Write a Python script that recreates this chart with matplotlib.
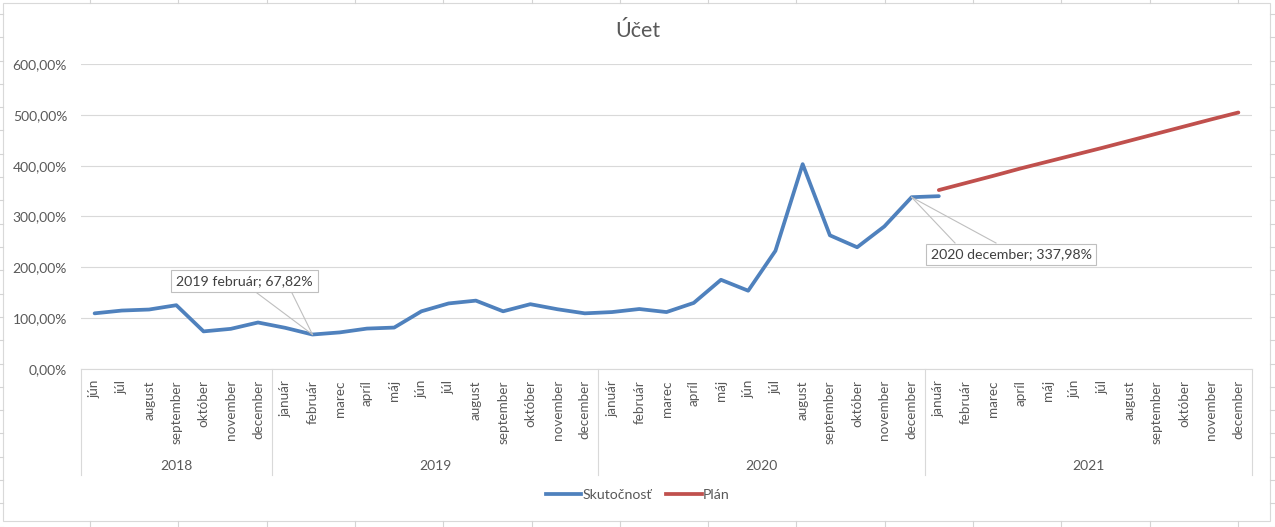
import matplotlib
matplotlib.use("Agg")
import matplotlib.pyplot as plt
from matplotlib.lines import Line2D
from matplotlib.patches import Rectangle
import matplotlib.transforms as mtransforms

plt.rcParams['font.family'] = ['Lato', 'DejaVu Sans']

# ---- data ----
years = ['2018', '2019', '2020', '2021']
months_2018 = ['jún', 'júl', 'august', 'september', 'október', 'november', 'december']
months_full = ['január', 'február', 'marec', 'apríl', 'máj', 'jún', 'júl', 'august',
               'september', 'október', 'november', 'december']
year_months = [months_2018, months_full, months_full, months_full]

skutocnost = [109.5, 115, 117, 125.5, 74, 79, 91.5,
              81, 67.82, 72, 79.5, 81.5, 113.5, 129, 134.5, 113.5, 127.5, 117.5, 109.5,
              112, 118, 112, 130, 175.5, 154, 232.5, 403, 263, 239.5, 280.5, 337.98,
              340]
plan = [352, 366, 380, 394.5, 408, 421.5, 435, 449, 463, 477, 491, 504.6]

labels_txt = [('2019 február; 67,82%', 8), ('2020 december; 337,98%', 30)]

yticks = [0, 100, 200, 300, 400, 500, 600]

# ---- derived ----
cat_labels = [m for ms in year_months for m in ms]
n = len(cat_labels)
x_sk = list(range(len(skutocnost)))
plan_start = len(skutocnost) - 1
x_pl = list(range(plan_start, plan_start + len(plan)))

W, H = 1275, 527
fig = plt.figure(figsize=(W / 100, H / 100), dpi=100)
fig.patch.set_facecolor('white')

def fx(px):
    return px / W

def fy(py):
    return 1 - py / H

# spreadsheet cell lines outside chart
cell_c = '#D4D4D4'
xc = 90.0
while xc < W:
    fig.add_artist(Line2D([fx(xc), fx(xc)], [fy(0), fy(3)], color=cell_c, lw=0.8))
    fig.add_artist(Line2D([fx(xc), fx(xc)], [fy(521), fy(H)], color=cell_c, lw=0.8))
    xc += 88.3
yc = 14.0
while yc < H:
    fig.add_artist(Line2D([fx(0), fx(3)], [fy(yc), fy(yc)], color=cell_c, lw=0.8))
    fig.add_artist(Line2D([fx(1270), fx(W)], [fy(yc), fy(yc)], color=cell_c, lw=0.8))
    yc += 23.3
fig.add_artist(Rectangle((fx(3), fy(521)), fx(1270) - fx(3), fy(3) - fy(521),
                         transform=fig.transFigure, fill=True, facecolor='white',
                         edgecolor='#D9D9D9', lw=0.8, zorder=0))

L, R, T, B = 81, 1252, 64, 369
ax = fig.add_axes([fx(L), fy(B), fx(R) - fx(L), fy(T) - fy(B)])
ax.set_facecolor('none')

blue = '#4F81BD'
red = '#C0504D'
LW = 2.7
ax.plot(x_sk, skutocnost, color=blue, lw=LW, solid_capstyle='round',
        solid_joinstyle='round', zorder=3, label='Skutočnosť')
ax.plot(x_pl, plan, color=red, lw=LW, solid_capstyle='round',
        solid_joinstyle='round', zorder=3, label='Plán')

ax.set_xlim(-0.5, n - 0.5)
ax.set_ylim(0, 600)
ax.set_yticks(yticks)
ax.set_yticklabels([f'{v:.2f}'.replace('.', ',') + '%' for v in yticks])
ax.yaxis.grid(True, color='#D9D9D9', lw=0.8)
ax.set_axisbelow(True)
for s in ['top', 'right', 'left']:
    ax.spines[s].set_visible(False)
ax.spines['bottom'].set_color('#D9D9D9')
ax.spines['bottom'].set_linewidth(0.8)
ax.tick_params(axis='y', length=0, pad=10, labelsize=10, labelcolor='#595959')
ax.set_xticks(range(n))
ax.set_xticklabels(cat_labels, rotation=90, va='top', ha='center')
ax.tick_params(axis='x', length=0, pad=8, labelsize=9.7, labelcolor='#595959')

# multi-level category axis
trans = mtransforms.blended_transform_factory(ax.transData, ax.transAxes)
axh = B - T
y_sep = -(475 - B) / axh
y_year = -(466 - B) / axh
pos = -0.5
seps = [pos]
for yr, ms in zip(years, year_months):
    start = pos
    pos += len(ms)
    seps.append(pos)
    ax.text((start + pos) / 2, y_year, yr, transform=trans, ha='center', va='center',
            fontsize=10, color='#595959')
for s in seps:
    ax.add_line(Line2D([s, s], [0, y_sep], transform=trans, color='#D9D9D9', lw=0.8,
                       clip_on=False))

# data labels with callouts
box_style = dict(boxstyle='square,pad=0.35', fc='white', ec='#BFBFBF', lw=0.8)

def px2data(px, py):
    xd = (px - L) / (R - L) * n - 0.5
    yd = (B - py) / axh * 600
    return xd, yd

i1 = labels_txt[0][1]
bx, by = px2data(244.5, 281)
ax.text(bx, by, labels_txt[0][0], ha='center', va='center', fontsize=10.2,
        color='#404040', bbox=box_style, zorder=5)
for lx in (257, 292):
    xa, ya = px2data(lx, 293)
    ax.plot([xa, i1], [ya, skutocnost[i1]], color='#BFBFBF', lw=0.8, zorder=4)

i2 = labels_txt[1][1]
bx, by = px2data(1011, 254.5)
ax.text(bx, by, labels_txt[1][0], ha='center', va='center', fontsize=10.2,
        color='#404040', bbox=box_style, zorder=5)
for lx in (955, 996):
    xa, ya = px2data(lx, 243)
    ax.plot([xa, i2], [ya, skutocnost[i2]], color='#BFBFBF', lw=0.8, zorder=4)

# title
fig.text(0.5, fy(31), 'Účet', ha='center', va='center', fontsize=15.5, color='#595959')

# legend
handles = [Line2D([], [], color=blue, lw=LW), Line2D([], [], color=red, lw=LW)]
fig.legend(handles, ['Skutočnosť', 'Plán'], loc='center', bbox_to_anchor=(fx(638), fy(495)),
           ncol=2, frameon=False, fontsize=10.2, handlelength=2.5, columnspacing=1.0,
           handletextpad=0.1, labelcolor='#595959')

fig.savefig('out.png', dpi=100, facecolor='white')
